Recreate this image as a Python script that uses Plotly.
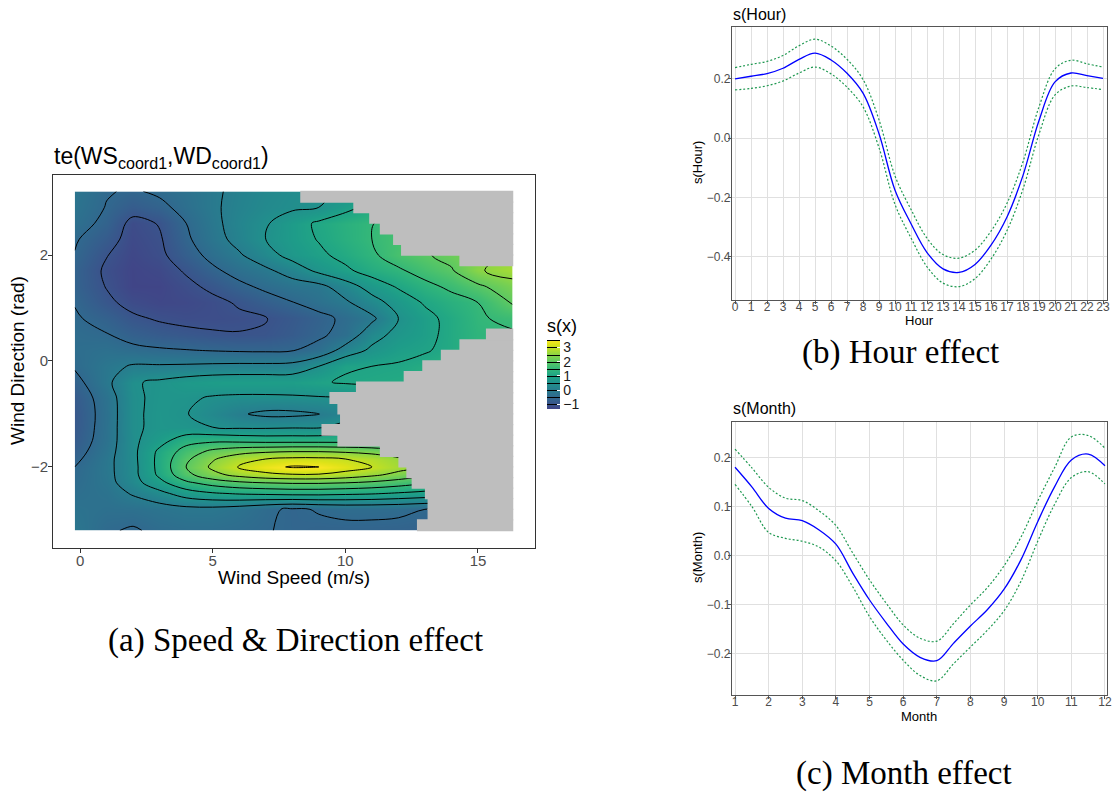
import plotly.graph_objects as go

W, H = 1113, 796

# ---------------- (a) te(WS_coord1, WD_coord1) surface ----------------
ws_grid = [-0.2, 1, 2, 3, 4, 5, 6, 7, 8, 9, 10, 11, 12, 13, 14, 15, 16.3]
wd_grid = [-3.2, -2.8, -2.5, -2.3, -2.15, -2.0, -1.85, -1.7, -1.5, -1.25, -1.0,
           -0.7, -0.4, -0.1, 0.2, 0.5, 0.8, 1.1, 1.4, 1.7, 2.0, 2.3, 2.6, 2.9, 3.2]
# estimated smooth values s(x); rows follow wd_grid, columns follow ws_grid
s_x = [
    [-0.15, -0.45, -0.55, -0.40, -0.35, -0.35, -0.40, -0.48, -0.55, -0.60, -0.60, -0.60, -0.62, -0.65, -0.65, -0.65, -0.65],
    [-0.25, -0.32, -0.30, -0.22, -0.15, -0.15, -0.25, -0.42, -0.56, -0.47, -0.40, -0.40, -0.42, -0.50, -0.50, -0.50, -0.50],
    [-0.35, -0.25, 0.05, 0.35, 0.75, 0.95, 1.05, 1.10, 1.15, 1.15, 1.10, 1.05, 0.95, 0.85, 0.70, 0.60, 0.50],
    [-0.42, -0.18, 0.30, 0.85, 1.40, 1.70, 1.90, 2.00, 2.05, 2.05, 2.00, 1.90, 1.75, 1.55, 1.30, 1.10, 0.90],
    [-0.47, -0.15, 0.35, 1.10, 1.85, 2.35, 2.65, 2.85, 2.95, 2.95, 2.80, 2.60, 2.35, 2.10, 1.80, 1.50, 1.10],
    [-0.50, -0.14, 0.35, 1.15, 2.00, 2.60, 3.05, 3.35, 3.55, 3.50, 3.25, 3.00, 2.70, 2.40, 2.00, 1.60, 1.20],
    [-0.60, -0.15, 0.37, 1.15, 1.90, 2.45, 2.80, 3.00, 3.10, 3.10, 3.00, 2.85, 2.60, 2.30, 1.95, 1.60, 1.20],
    [-0.70, -0.20, 0.38, 1.10, 1.70, 2.10, 2.30, 2.40, 2.45, 2.45, 2.40, 2.30, 2.10, 1.90, 1.60, 1.30, 1.00],
    [-0.80, -0.26, 0.40, 0.80, 1.30, 1.38, 1.35, 1.30, 1.30, 1.30, 1.30, 1.30, 1.20, 1.10, 1.00, 0.90, 0.80],
    [-0.86, -0.28, 0.42, 0.62, 0.60, 0.50, 0.42, 0.42, 0.45, 0.45, 0.70, 0.90, 1.10, 1.20, 1.20, 1.20, 1.20],
    [-0.88, -0.29, 0.42, 0.62, 0.52, 0.30, 0.05, -0.10, -0.10, -0.02, 0.20, 0.40, 0.60, 0.80, 1.00, 1.20, 1.40],
    [-0.82, -0.26, 0.42, 0.60, 0.58, 0.45, 0.40, 0.40, 0.42, 0.45, 0.50, 0.55, 0.70, 0.90, 1.10, 1.30, 1.50],
    [-0.65, -0.12, 0.45, 0.58, 0.72, 0.82, 0.85, 0.85, 0.85, 0.95, 1.05, 1.10, 1.15, 1.30, 1.50, 1.80, 2.10],
    [-0.45, -0.15, 0.05, 0.05, 0.07, 0.10, 0.12, 0.12, 0.15, 0.50, 0.95, 1.00, 1.05, 1.20, 1.40, 1.70, 2.00],
    [-0.38, -0.30, -0.38, -0.44, -0.48, -0.52, -0.55, -0.56, -0.52, -0.35, 0.20, 0.60, 0.85, 0.95, 1.15, 1.45, 1.90],
    [-0.40, -0.48, -0.68, -0.80, -0.88, -0.95, -0.98, -0.95, -0.80, -0.58, -0.35, 0.30, 0.65, 0.85, 1.15, 1.40, 1.45],
    [-0.45, -0.65, -0.92, -1.05, -1.12, -1.12, -1.08, -1.02, -0.85, -0.65, -0.40, -0.10, 0.50, 0.85, 1.15, 1.45, 1.60],
    [-0.52, -0.90, -1.15, -1.25, -1.22, -1.12, -0.95, -0.72, -0.52, -0.30, -0.08, 0.30, 0.70, 1.05, 1.30, 1.50, 2.05],
    [-0.62, -1.02, -1.30, -1.30, -1.12, -0.90, -0.62, -0.40, -0.22, -0.15, 0.25, 0.70, 1.05, 1.35, 1.60, 1.90, 2.30],
    [-0.62, -1.08, -1.30, -1.22, -0.95, -0.60, -0.32, -0.10, 0.20, 0.60, 0.90, 1.20, 1.42, 1.70, 1.95, 2.45, 2.70],
    [-0.52, -0.98, -1.25, -1.10, -0.72, -0.35, -0.05, 0.30, 0.68, 0.90, 1.15, 1.42, 1.75, 1.95, 2.15, 2.35, 2.60],
    [-0.45, -0.80, -1.20, -1.05, -0.58, -0.18, 0.15, 0.50, 0.78, 1.03, 1.28, 1.50, 1.72, 1.95, 2.15, 2.35, 2.55],
    [-0.30, -0.62, -1.15, -0.97, -0.50, -0.12, 0.20, 0.45, 0.78, 1.08, 1.30, 1.48, 1.70, 1.90, 2.10, 2.30, 2.50],
    [-0.22, -0.52, -0.78, -0.62, -0.34, -0.07, 0.15, 0.32, 0.42, 0.50, 0.85, 1.15, 1.35, 1.55, 1.75, 1.95, 2.15],
    [-0.18, -0.47, -0.55, -0.42, -0.28, -0.08, 0.12, 0.28, 0.38, 0.45, 0.55, 0.70, 0.90, 1.10, 1.30, 1.50, 1.80],
]
s_x_min, s_x_max = -1.33, 3.52
contour_levels = (-1.0, 3.5, 0.5)
colorbar_ticks = [-1, 0, 1, 2, 3]

# region too far from data (grey): wind-direction band centre and speed where the grey starts
mask_wd = [-3.1, -2.9, -2.7, -2.5, -2.3, -2.1, -1.9, -1.7, -1.5, -1.3, -1.1, -0.9, -0.7,
           -0.5, -0.3, -0.1, 0.1, 0.3, 0.5, 1.9, 2.1, 2.3, 2.5, 2.7, 2.9, 3.1]
mask_ws_start = [12.7, 13.1, 13.1, 13.0, 12.5, 12.3, 12.0, 11.3, 9.7, 9.1, 9.8, 9.7, 9.4,
                 10.4, 12.2, 12.9, 13.6, 14.3, 15.3, 14.3, 12.1, 11.8, 11.3, 10.9, 10.3, 8.3]
mask_band = 0.2
ws_end = 16.33

# ---------------- (b) s(Hour) ----------------
hour = list(range(24))
s_hour = [0.200, 0.209, 0.218, 0.236, 0.266, 0.287, 0.264, 0.219, 0.152, 0.015, -0.175, -0.288,
          -0.385, -0.440, -0.452, -0.425, -0.360, -0.265, -0.125, 0.060, 0.190, 0.220, 0.211, 0.202]
s_hour_hi = [0.238, 0.249, 0.259, 0.279, 0.312, 0.334, 0.311, 0.266, 0.198, 0.062, -0.127, -0.240,
             -0.337, -0.392, -0.404, -0.377, -0.313, -0.219, -0.079, 0.106, 0.234, 0.263, 0.251, 0.240]
s_hour_lo = [0.163, 0.168, 0.177, 0.193, 0.220, 0.240, 0.217, 0.172, 0.106, -0.032, -0.223, -0.336,
             -0.433, -0.488, -0.500, -0.473, -0.407, -0.311, -0.171, 0.014, 0.146, 0.176, 0.171, 0.164]
hour_yticks = [-0.4, -0.2, 0.0, 0.2]

# ---------------- (c) s(Month) ----------------
month = [1, 1.5, 2, 2.5, 3, 3.5, 4, 4.5, 5, 5.5, 6, 6.5, 7, 7.5, 8, 8.5, 9, 9.5, 10, 10.5, 11, 11.5, 12]
s_month = [0.181, 0.141, 0.097, 0.077, 0.072, 0.053, 0.024, -0.035, -0.090, -0.137, -0.180, -0.207,
           -0.214, -0.178, -0.143, -0.110, -0.068, -0.008, 0.070, 0.141, 0.196, 0.208, 0.184]
s_month_hi = [0.218, 0.180, 0.140, 0.118, 0.113, 0.092, 0.062, 0.006, -0.049, -0.097, -0.141, -0.168,
              -0.174, -0.138, -0.100, -0.065, -0.020, 0.038, 0.112, 0.180, 0.243, 0.246, 0.220]
s_month_lo = [0.146, 0.101, 0.048, 0.036, 0.030, 0.018, -0.010, -0.063, -0.124, -0.172, -0.213, -0.244,
              -0.255, -0.220, -0.186, -0.152, -0.112, -0.052, 0.030, 0.105, 0.160, 0.172, 0.147]
month_ticks = list(range(1, 13))
month_yticks = [-0.2, -0.1, 0.0, 0.1, 0.2]

# ---------------- styling ----------------
SANS = "Liberation Sans"
SERIF = "Liberation Serif"
viridis_b = [[0.0, "#414487"], [0.0625, "#3b528b"], [0.125, "#355f8d"], [0.1875, "#2f6c8e"],
             [0.25, "#2a788e"], [0.3125, "#25848e"], [0.375, "#21918c"], [0.4375, "#1e9c89"],
             [0.5, "#22a884"], [0.5625, "#2fb47c"], [0.625, "#44bf70"], [0.6875, "#5ec962"],
             [0.75, "#7ad151"], [0.8125, "#9bd93c"], [0.875, "#bddf26"], [0.9375, "#dfe318"],
             [1.0, "#fde725"]]
FIT = "#0000ff"
CI = "#1e9850"


def fx(p):
    return p / W


def fy(p):
    return 1 - p / H


fig = go.Figure()

fig.add_trace(go.Contour(
    x=ws_grid, y=wd_grid, z=s_x, xaxis="x", yaxis="y",
    colorscale=viridis_b, zmin=s_x_min, zmax=s_x_max,
    contours=dict(start=contour_levels[0], end=contour_levels[1], size=contour_levels[2],
                  coloring="heatmap"),
    line=dict(color="black", width=1.0, smoothing=1.0),
    hoverinfo="skip",
    colorbar=dict(
        x=fx(547), xanchor="left", xpad=0,
        y=fy(409), yanchor="bottom", ypad=0,
        len=94, lenmode="pixels", thickness=13, thicknessmode="pixels",
        outlinewidth=0,
        tickvals=colorbar_ticks, ticks="inside", tickcolor="white", ticklen=3,
        tickfont=dict(family=SANS, size=14, color="#1a1a1a"),
        title=dict(text="s(x)", side="top", font=dict(family=SANS, size=18, color="#000000")),
    ),
))

fig.add_trace(go.Bar(
    orientation="h", y=mask_wd, base=mask_ws_start,
    x=[ws_end - s for s in mask_ws_start], width=mask_band * 1.12,
    marker=dict(color="#bebebe", line=dict(width=0)),
    xaxis="x", yaxis="y", showlegend=False, hoverinfo="skip",
))

for ys, col, dash, wdt in [(s_hour_hi, CI, "2px,2px", 1.2), (s_hour_lo, CI, "2px,2px", 1.2),
                           (s_hour, FIT, "solid", 1.3)]:
    fig.add_trace(go.Scatter(x=hour, y=ys, mode="lines", xaxis="x2", yaxis="y2",
                             line=dict(color=col, dash=dash, width=wdt, shape="spline"),
                             showlegend=False, hoverinfo="skip"))

for ys, col, dash, wdt in [(s_month_hi, CI, "2px,2px", 1.2), (s_month_lo, CI, "2px,2px", 1.2),
                           (s_month, FIT, "solid", 1.3)]:
    fig.add_trace(go.Scatter(x=month, y=ys, mode="lines", xaxis="x3", yaxis="y3",
                             line=dict(color=col, dash=dash, width=wdt, shape="spline"),
                             showlegend=False, hoverinfo="skip"))

axA = dict(showgrid=False, zeroline=False, showline=True, mirror=True, linecolor="#333333",
           linewidth=1, ticks="outside", ticklen=4, tickwidth=1, tickcolor="#333333",
           tickfont=dict(family=SANS, size=15, color="#4d4d4d"))
axB = dict(showgrid=True, gridcolor="#e0e0e0", gridwidth=1, zeroline=False, showline=True,
           mirror=True, linecolor="#555555", linewidth=1.3, ticks="outside", ticklen=3,
           tickwidth=1, tickcolor="#555555",
           tickfont=dict(family=SANS, size=12, color="#4d4d4d"))

fig.update_layout(
    width=W, height=H, autosize=False,
    margin=dict(l=0, r=0, t=0, b=0, autoexpand=False),
    paper_bgcolor="white", plot_bgcolor="white",
    font=dict(family=SANS, color="#000000"),
    showlegend=False,
    xaxis=dict(domain=[fx(53), fx(535)], anchor="y", range=[-1.02, 17.15],
               tickvals=[0, 5, 10, 15], ticklabelstandoff=-5, **axA),
    yaxis=dict(domain=[fy(548), fy(175)], anchor="x", range=[-3.53, 3.51],
               tickvals=[-2, 0, 2], ticklabelstandoff=-3, **axA),
    xaxis2=dict(domain=[fx(732), fx(1107)], anchor="y2", range=[-0.19, 23.25],
                tickvals=hour, ticklabelstandoff=-8, **axB),
    yaxis2=dict(domain=[fy(300), fy(27)], anchor="x2", range=[-0.545, 0.375],
                tickvals=hour_yticks, tickformat=".1f", ticklabelstandoff=-5, **axB),
    xaxis3=dict(domain=[fx(732), fx(1107)], anchor="y3", range=[0.91, 12.06],
                tickvals=month_ticks, ticklabelstandoff=-8, **axB),
    yaxis3=dict(domain=[fy(695), fy(422)], anchor="x3", range=[-0.284, 0.2735],
                tickvals=month_yticks, tickformat=".1f", ticklabelstandoff=-5, **axB),
)


def ann(text, x, y, size, family=SANS, xanchor="center", angle=0, color="#000000"):
    return dict(text=text, x=fx(x), y=fy(y), xref="paper", yref="paper",
                xanchor=xanchor, yanchor="middle", showarrow=False, textangle=angle,
                font=dict(family=family, size=size, color=color))


fig.update_layout(annotations=[
    ann("te(WS<sub>coord1</sub>,WD<sub>coord1</sub>)", 52, 157, 23, xanchor="left"),
    ann("Wind Speed (m/s)", 294, 577, 19),
    ann("Wind Direction (rad)", 18, 361, 19, angle=-90),
    ann("(a) Speed &amp; Direction effect", 295, 640, 33, family=SERIF),
    ann("s(Hour)", 731, 15, 16, xanchor="left"),
    ann("Hour", 919, 321, 13),
    ann("s(Hour)", 697, 163, 13, angle=-90),
    ann("(b) Hour effect", 900, 352, 33, family=SERIF),
    ann("s(Month)", 731, 408, 16, xanchor="left"),
    ann("Month", 919, 716, 13),
    ann("s(Month)", 697, 558, 13, angle=-90),
    ann("(c) Month effect", 904, 773, 33, family=SERIF),
])

fig.write_html("out.html")
